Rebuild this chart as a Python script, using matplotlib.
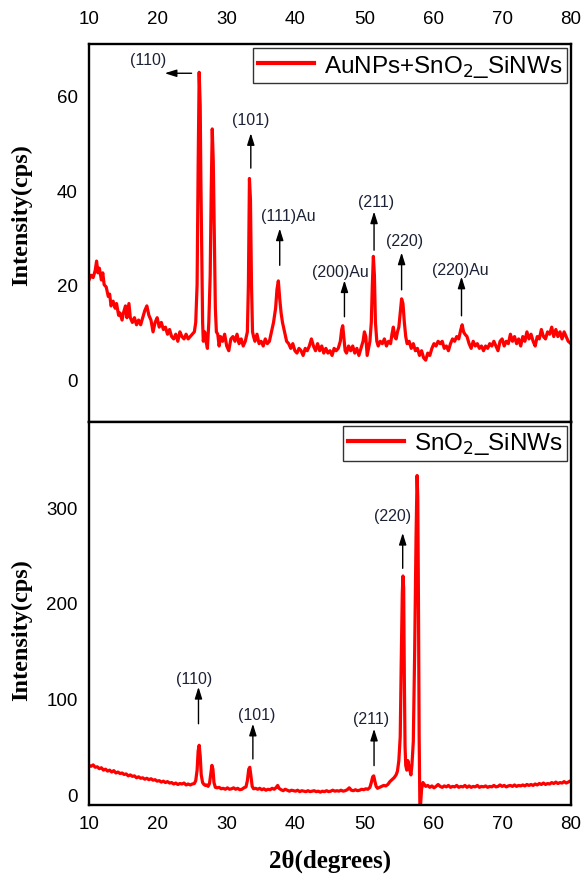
import matplotlib
matplotlib.use("Agg")
import matplotlib.pyplot as plt

# AuNPs+SnO2_SiNWs pattern (2theta, counts)
au_x = [10.0, 10.3, 10.6, 10.9, 11.1, 11.3, 11.5, 11.8, 12.0, 12.2, 12.5, 12.8, 13.0, 13.2, 13.5, 13.8,
        14.0, 14.3, 14.5, 14.8, 15.0, 15.3, 15.5, 15.8, 16.0, 16.3, 16.6, 16.9, 17.2, 17.5, 17.8, 18.1,
        18.4, 18.7, 19.0, 19.3, 19.6, 19.9, 20.2, 20.5, 20.8, 21.1, 21.4, 21.7, 22.0, 22.3, 22.6, 22.9,
        23.2, 23.5, 23.8, 24.1, 24.4, 24.7, 25.0, 25.3, 25.5, 25.7, 25.85, 26.0, 26.15, 26.25, 26.35,
        26.5, 26.6, 26.8, 27.0, 27.2, 27.4, 27.6, 27.75, 27.9, 28.05, 28.2, 28.35, 28.5, 28.7, 28.9,
        29.1, 29.4, 29.7, 30.0, 30.3, 30.6, 30.9, 31.2, 31.5, 31.8, 32.1, 32.4, 32.7, 33.0, 33.15, 33.3,
        33.45, 33.6, 33.75, 33.9, 34.1, 34.4, 34.7, 35.0, 35.3, 35.6, 35.9, 36.2, 36.5, 36.8, 37.1, 37.3,
        37.5, 37.7, 37.9, 38.1, 38.4, 38.7, 39.0, 39.3, 39.6, 39.9, 40.2, 40.5, 40.8, 41.1, 41.4, 41.7,
        42.0, 42.3, 42.6, 42.9, 43.2, 43.5, 43.8, 44.1, 44.4, 44.7, 45.0, 45.3, 45.6, 45.9, 46.2, 46.5,
        46.7, 46.85, 47.0, 47.2, 47.4, 47.7, 48.0, 48.3, 48.6, 48.9, 49.2, 49.5, 49.8, 50.0, 50.2, 50.4,
        50.6, 50.8, 51.0, 51.15, 51.3, 51.45, 51.6, 51.8, 52.0, 52.3, 52.6, 52.9, 53.2, 53.5, 53.8, 54.0,
        54.2, 54.4, 54.6, 54.8, 55.0, 55.2, 55.4, 55.6, 55.8, 56.0, 56.2, 56.5, 56.8, 57.1, 57.4, 57.7,
        58.0, 58.3, 58.6, 58.9, 59.2, 59.5, 59.8, 60.1, 60.4, 60.7, 61.0, 61.3, 61.6, 61.9, 62.2, 62.5,
        62.8, 63.1, 63.4, 63.7, 64.0, 64.2, 64.4, 64.6, 64.9, 65.2, 65.5, 65.8, 66.1, 66.4, 66.7, 67.0,
        67.3, 67.6, 67.9, 68.2, 68.5, 68.8, 69.1, 69.4, 69.7, 70.0, 70.3, 70.6, 70.9, 71.2, 71.5, 71.8,
        72.1, 72.4, 72.7, 73.0, 73.3, 73.6, 73.9, 74.2, 74.5, 74.8, 75.1, 75.4, 75.7, 76.0, 76.3, 76.6,
        76.9, 77.2, 77.5, 77.8, 78.1, 78.4, 78.7, 79.0, 79.3, 79.6, 80.0]
au_y = [21, 22, 21.5, 23, 25, 22.5, 23.5, 21, 22.5, 20, 19.5, 17.5, 18, 15.5, 16.5, 15,
        16, 13.5, 14, 12.5, 14, 15.5, 13, 16, 13, 12, 13, 11.5, 12.5, 11.5, 13, 14.5,
        15.5, 13.5, 12.5, 10, 12, 13, 11, 12, 10.5, 11, 9.5, 10.5, 9, 8.5, 9.5, 8,
        10, 9, 8.5, 9.5, 8.5, 9, 9.5, 10, 12, 20, 45, 65, 58, 42, 30,
        12, 8, 10, 8, 6.5, 12, 22, 40, 53, 46, 30, 15, 10, 9.5, 7,
        9, 8, 9.5, 7, 6, 8.5, 9, 8, 9.5, 7.5, 8.5, 7, 8, 10, 20, 42.5,
        38, 20, 10, 9, 8, 9.5, 7.5, 8, 7, 8.5, 7.5, 8, 10, 12, 15, 19,
        20.8, 17, 14, 12, 10, 8, 7.5, 6.5, 7.5, 6, 5.5, 6.5, 6, 5, 6.5, 6,
        7, 8.5, 7, 6, 7.5, 6, 7, 5.5, 6.5, 5.5, 6, 5, 6.5, 6, 6.5, 8,
        10.5, 11.3, 9, 6, 5.5, 7, 6, 7, 5.5, 6.5, 5, 6.5, 8, 10, 9, 5,
        6.5, 8, 12, 20, 26, 22, 12, 8, 7, 8, 7.5, 8.5, 7, 8, 7.5, 9.5,
        11, 9, 8.5, 10, 11, 14, 17, 16, 12, 9, 7.5, 8, 6.5, 7.5, 6, 6.5,
        5, 6, 4.5, 4, 5.5, 5, 6.5, 7.5, 7, 8, 7.5, 8, 6.5, 7, 6, 7.5,
        8.5, 8, 9, 8.5, 10.5, 11.5, 10, 9.5, 9, 7.5, 6.5, 8, 7, 7.5, 6.5, 7,
        6, 7, 6.5, 7.5, 7, 8, 7, 6, 8, 8.5, 7, 8, 7.5, 9.5, 8, 9,
        7.5, 8.5, 7, 9, 8, 10, 8.5, 9.5, 8, 7, 9, 8.5, 10.5, 9, 8.5, 10,
        9.5, 11, 9, 10.5, 9, 10, 8.5, 10, 9, 8, 7.5]

# SnO2_SiNWs pattern
sn_x = [10.0, 10.3, 10.6, 10.9, 11.2, 11.5, 11.8, 12.1, 12.4, 12.7, 13.0, 13.3, 13.6, 13.9, 14.2, 14.5,
        14.8, 15.1, 15.4, 15.7, 16.0, 16.3, 16.6, 16.9, 17.2, 17.5, 17.8, 18.1, 18.4, 18.7, 19.0, 19.3,
        19.6, 19.9, 20.2, 20.5, 20.8, 21.1, 21.4, 21.7, 22.0, 22.3, 22.6, 22.9, 23.2, 23.5, 23.8, 24.1,
        24.4, 24.7, 25.0, 25.3, 25.5, 25.7, 25.85, 26.0, 26.15, 26.3, 26.5, 26.7, 26.9, 27.1, 27.3, 27.5,
        27.7, 27.85, 28.0, 28.15, 28.35, 28.6, 28.9, 29.2, 29.5, 29.8, 30.1, 30.4, 30.7, 31.0, 31.3, 31.6,
        31.9, 32.2, 32.5, 32.8, 33.0, 33.2, 33.35, 33.5, 33.7, 33.9, 34.2, 34.5, 34.8, 35.1, 35.4, 35.7,
        36.0, 36.3, 36.6, 36.9, 37.2, 37.4, 37.6, 37.9, 38.2, 38.5, 38.8, 39.1, 39.4, 39.7, 40.0, 40.3,
        40.6, 40.9, 41.2, 41.5, 41.8, 42.1, 42.4, 42.7, 43.0, 43.3, 43.6, 43.9, 44.2, 44.5, 44.8, 45.1,
        45.4, 45.7, 46.0, 46.3, 46.6, 46.9, 47.2, 47.5, 47.8, 48.1, 48.4, 48.7, 49.0, 49.3, 49.6, 49.9,
        50.2, 50.5, 50.8, 51.0, 51.2, 51.35, 51.5, 51.7, 51.9, 52.2, 52.5, 52.8, 53.1, 53.4, 53.7, 54.0,
        54.3, 54.6, 54.8, 55.0, 55.2, 55.35, 55.5, 55.6, 55.7, 55.8, 55.9, 56.0, 56.15, 56.3, 56.45, 56.6,
        56.75, 56.9, 57.1, 57.3, 57.5, 57.65, 57.75, 57.85, 57.95, 58.05, 58.15, 58.3, 58.5, 58.7, 58.9, 59.2,
        59.5, 59.8, 60.1, 60.4, 60.7, 61.0, 61.3, 61.6, 61.9, 62.2, 62.5, 62.8, 63.1, 63.4, 63.7, 64.0,
        64.3, 64.6, 64.9, 65.2, 65.5, 65.8, 66.1, 66.4, 66.7, 67.0, 67.3, 67.6, 67.9, 68.2, 68.5, 68.8,
        69.1, 69.4, 69.7, 70.0, 70.3, 70.6, 70.9, 71.2, 71.5, 71.8, 72.1, 72.4, 72.7, 73.0, 73.3, 73.6,
        73.9, 74.2, 74.5, 74.8, 75.1, 75.4, 75.7, 76.0, 76.3, 76.6, 76.9, 77.2, 77.5, 77.8, 78.1, 78.4,
        78.7, 79.0, 79.3, 79.6, 80.0]
sn_y = [30, 29, 30.5, 28, 28.5, 26.5, 27.5, 25, 26, 24, 25, 23, 24.5, 22, 23, 21.5,
        22, 20.5, 21, 19, 20, 18.5, 19, 17, 18, 16.5, 17, 15.5, 16.5, 15, 16, 14.5,
        15, 13.5, 14, 12.5, 13.5, 12, 13, 11.5, 12, 10.5, 11.5, 10, 11, 10.5, 11.5, 9.5,
        10.5, 9.5, 10.5, 11, 14, 25, 45, 51, 40, 20, 12, 10, 9, 9.5, 8, 11,
        22, 30, 26, 12, 7, 6.5, 7, 5.5, 6, 5, 6.5, 5, 5.5, 6.5, 5, 6,
        4.5, 5, 6.5, 7.5, 14, 26, 28, 20, 8, 5.5, 6, 5, 6, 4.5, 5.5, 4,
        5, 4.5, 6, 5, 7, 9, 6, 4.5, 3.5, 5, 4, 3, 4, 3.5, 3, 4,
        2.5, 3.5, 3, 2.5, 3.5, 2.5, 3, 3.5, 2.5, 3, 2, 3, 2.5, 3.5, 2.5, 3,
        4, 3, 3.5, 3, 4, 3, 3.5, 4.5, 6.5, 4, 3.5, 4.5, 3.5, 4, 5, 4.5,
        5.5, 5, 7, 12, 18, 19, 14, 8, 6, 7, 8, 9, 8.5, 10, 13, 15,
        17, 20, 24, 35, 60, 140, 210, 228, 215, 120, 50, 30, 25, 35, 30, 25,
        20, 30, 55, 150, 270, 333, 310, 200, 60, -10, -12, 5, 12, 10, 8, 9,
        7, 8.5, 6.5, 8, 10, 8, 7, 8.5, 7.5, 9, 7, 8, 7.5, 9, 7, 8,
        7.5, 9, 7, 8.5, 7, 8, 7.5, 9, 7, 8, 7.5, 8.5, 7, 8, 7.5, 9,
        7.5, 8, 9.5, 8, 9, 7.5, 8.5, 9, 8, 9.5, 8, 9, 8.5, 9.5, 8.5, 10,
        9, 10, 9, 10.5, 9.5, 11, 10, 11.5, 10, 11, 10.5, 12, 11, 12.5, 11, 12,
        11.5, 13, 11.5, 12.5, 14]

x_ticks = [10, 20, 30, 40, 50, 60, 70, 80]
top_yticks = [0, 20, 40, 60]
bot_yticks = [0, 100, 200, 300]

# (label, arrow x, arrow tail y, arrow tip y, text x, text y)
top_notes = [("(101)", 33.5, 44.7, 52.1, 33.5, 55.1),
             ("(111)Au", 37.7, 24.1, 31.9, 39.0, 34.7),
             ("(200)Au", 47.1, 13.2, 20.9, 46.5, 22.7),
             ("(211)", 51.4, 27.3, 35.5, 51.7, 37.6),
             ("(220)", 55.4, 18.9, 26.8, 55.8, 29.4),
             ("(220)Au", 64.1, 13.4, 21.7, 63.9, 23.2)]
bot_notes = [("(110)", 25.9, 73.5, 112, 25.2, 120.7),
             ("(101)", 33.8, 36.7, 73.5, 34.3, 83.2),
             ("(211)", 51.4, 29.7, 68.2, 51.0, 78.7),
             ("(220)", 55.56, 236, 273, 54.1, 291)]

sans = "Liberation Sans"
serif = "Liberation Serif"
note_color = "#1c2235"
arrow = dict(arrowstyle="-|>,head_length=0.7,head_width=0.22", color="black", lw=1.0,
             shrinkA=0, shrinkB=0)

fig = plt.figure(figsize=(5.84, 8.79), dpi=100)
ax1 = fig.add_axes([0.1524, 0.5188, 0.8253, 0.4300])
ax2 = fig.add_axes([0.1524, 0.0830, 0.8253, 0.4358])

ax1.plot(au_x, au_y, color="#ff0000", lw=2.3, label="AuNPs+SnO$_2$_SiNWs")
ax2.plot(sn_x, sn_y, color="#ff0000", lw=2.3, label="SnO$_2$_SiNWs")

ax1.set_ylim(-9.1, 71)
ax2.set_ylim(-11.5, 389)
for ax in (ax1, ax2):
    ax.set_xlim(10, 80)
    ax.set_xticks(x_ticks)
    for s in ax.spines.values():
        s.set_linewidth(1.7)
    ax.tick_params(length=0, labelsize=13.5)
    for lab in ax.get_xticklabels() + ax.get_yticklabels():
        lab.set_fontfamily(sans)
    ax.set_ylabel("Intensity(cps)", fontfamily=serif, fontweight="bold", fontsize=17.5)
    leg = ax.legend(loc="upper right", prop={"family": sans, "size": 17.5}, frameon=True,
                    fancybox=False, edgecolor="black", borderaxespad=0.15, borderpad=0.2,
                    handlelength=2.3, handletextpad=0.4)
    leg.get_frame().set_linewidth(1.0)
    leg.get_lines()[0].set_linewidth(3)

ax1.yaxis.set_label_coords(-0.117, 0.55)
ax2.yaxis.set_label_coords(-0.117, 0.46)
ax1.set_yticks(top_yticks)
ax2.set_yticks(bot_yticks)
ax1.xaxis.tick_top()
ax1.tick_params(axis="x", pad=12)
ax2.tick_params(axis="x", pad=7)
ax1.tick_params(axis="y", pad=8)
ax2.tick_params(axis="y", pad=8)
for lab in ax1.get_xticklabels() + ax2.get_xticklabels():
    lab.set_fontfamily(sans)

ax2.set_xlabel("2θ(degrees)", fontfamily=serif, fontweight="bold", fontsize=18, labelpad=12)

# horizontal arrow for (110) on top panel
ax1.annotate("", xy=(21.0, 64.8), xytext=(24.9, 64.8), arrowprops=arrow)
ax1.text(18.6, 67.8, "(110)", ha="center", va="center", fontsize=11.5, color=note_color, fontfamily=sans)

for ax, notes in ((ax1, top_notes), (ax2, bot_notes)):
    for lab, ax_x, y0, y1, tx, ty in notes:
        ax.annotate("", xy=(ax_x, y1), xytext=(ax_x, y0), arrowprops=arrow)
        ax.text(tx, ty, lab, ha="center", va="center", fontsize=11.5, color=note_color, fontfamily=sans)

fig.savefig("out.png", dpi=100)
